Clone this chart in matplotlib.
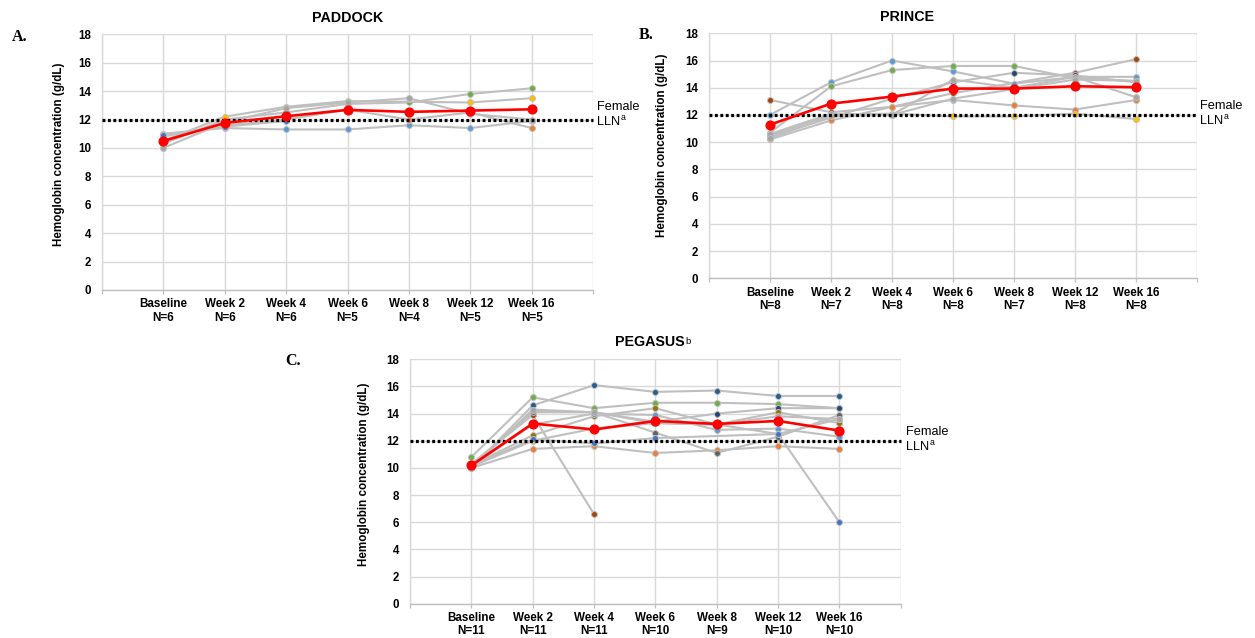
import numpy as np
import matplotlib
matplotlib.use("Agg")
import matplotlib.pyplot as plt
from matplotlib.text import Annotation

plt.rcParams['font.family'] = ['Liberation Sans', 'DejaVu Sans']

nan = np.nan
categories = ["Baseline", "Week 2", "Week 4", "Week 6", "Week 8", "Week 12", "Week 16"]

# ---------------- PADDOCK ----------------
paddock_n = ["N=6", "N=6", "N=6", "N=5", "N=4", "N=5", "N=5"]
paddock_mean = [10.49, 11.76, 12.23, 12.68, 12.54, 12.63, 12.72]
paddock_p1 = [11.0, 11.4, 11.3, 11.3, 11.6, 11.4, 11.9]
paddock_p2 = [10.3, 12.0, 12.5, 13.1, 13.2, 13.8, 14.2]
paddock_p3 = [10.5, 12.2, 12.9, 13.3, nan, 13.2, 13.5]
paddock_p4 = [10.0, 11.8, 12.8, 13.2, 13.5, 12.4, 12.0]
paddock_p5 = [10.8, 11.6, 12.0, 12.7, 12.0, 12.5, 11.4]
paddock_p6 = [10.9, 11.5, 11.9, nan, nan, nan, nan]
paddock_colors = ['#5B9BD5', '#70AD47', '#FFC000', '#A5A5A5', '#ED7D31', '#4472C4']

# ---------------- PRINCE ----------------
prince_n = ["N=8", "N=7", "N=8", "N=8", "N=7", "N=8", "N=8"]
prince_mean = [11.29, 12.83, 13.35, 13.94, 13.94, 14.11, 14.04]
prince_p1 = [13.1, 12.2, 12.6, 13.6, nan, 15.1, 16.1]
prince_p2 = [12.0, 14.4, 16.0, 15.2, 14.3, 14.8, 14.8]
prince_p3 = [10.7, 14.1, 15.3, 15.6, 15.6, 14.7, 14.5]
prince_p4 = [10.4, nan, 13.2, 14.4, 15.1, 14.9, 14.4]
prince_p5 = [10.2, 11.6, 12.6, 13.1, 12.7, 12.4, 13.1]
prince_p6 = [10.5, 12.0, 12.1, 11.9, 11.9, 12.1, 11.7]
prince_p7 = [10.6, 12.1, 12.0, 14.6, 14.0, 14.8, 13.3]
prince_p8 = [10.3, 11.9, 12.0, 13.2, 13.9, 14.6, 14.5]
prince_colors = ['#9E480E', '#5B9BD5', '#70AD47', '#264478', '#ED7D31', '#FFC000', '#A5A5A5', '#A5A5A5']

# ---------------- PEGASUS ----------------
pegasus_n = ["N=11", "N=11", "N=11", "N=10", "N=9", "N=10", "N=10"]
pegasus_mean = [10.18, 13.27, 12.83, 13.46, 13.24, 13.46, 12.75]
pegasus_p1 = [10.0, 14.6, 16.1, 15.6, 15.7, 15.3, 15.3]
pegasus_p2 = [10.8, 15.2, 14.4, 14.8, 14.8, 14.7, 14.4]
pegasus_p3 = [10.1, 14.2, 14.1, 13.4, 14.0, 14.4, 14.4]
pegasus_p4 = [10.2, 12.4, 13.8, 14.4, 13.2, 14.1, 13.3]
pegasus_p5 = [10.3, 13.9, 6.6, nan, nan, nan, nan]
pegasus_p6 = [10.0, 11.4, 11.6, 11.1, 11.3, 11.6, 11.4]
pegasus_p7 = [10.1, 12.0, 12.9, 13.3, 13.2, 12.5, 13.6]
pegasus_p8 = [10.2, 14.1, 14.1, 12.6, 11.1, 12.3, 13.9]
pegasus_p9 = [10.1, 13.2, 14.0, 13.9, 12.8, 12.9, 12.3]
pegasus_p10 = [10.2, 12.1, 11.8, 12.2, nan, 12.5, 6.0]
pegasus_p11 = [10.0, 14.3, 14.1, 13.3, 13.2, 13.8, 13.6]
pegasus_colors = ['#255E91', '#70AD47', '#264478', '#997300', '#9E480E', '#ED7D31',
                  '#FFC000', '#636363', '#5B9BD5', '#4472C4', '#A5A5A5']

female_lln = 12

W, H = 1255, 638
fig = plt.figure(figsize=(W / 100, H / 100), dpi=100)


def rect(left, right, top, bottom):
    return [left / W, 1 - bottom / H, (right - left) / W, (bottom - top) / H]


def draw_panel(ax, patients, colors, mean, nlabels, ylab_xy):
    x = np.arange(len(categories))
    for vals, c in zip(patients, colors):
        v = np.array(vals, dtype=float)
        m = ~np.isnan(v)
        ax.plot(x[m], v[m], color='#BFBFBF', lw=1.5, zorder=2,
                marker='o', ms=4.3, mfc=c, mec='#BFBFBF', mew=0.7)
    ax.plot([-1, 7], [female_lln, female_lln], color='black', lw=2.3,
            linestyle=(0, (0.9, 0.8)), zorder=3, clip_on=False)
    ax.plot(x, mean, color='#FF0000', lw=1.9, marker='o', ms=6.3,
            mfc='#FF0000', mec='#FF0000', zorder=4)
    ax.set_xlim(-1, 7)
    ax.set_ylim(0, 18)
    ax.set_yticks(np.arange(0, 19, 2))
    ax.set_xticks(np.arange(-1, 8))
    ax.set_xticklabels([""] + [f"{c}\n{n}" for c, n in zip(categories, nlabels)] + [""],
                       fontsize=8.4, fontweight='bold', linespacing=1.15)
    for lab in ax.get_yticklabels():
        lab.set_fontweight('bold')
        lab.set_fontsize(8.3)
    ax.tick_params(axis='y', length=0, pad=8)
    ax.tick_params(axis='x', length=3, width=0.9, color='#BFBFBF', pad=3, direction='out')
    ax.grid(True, color='#D9D9D9', lw=1.0, zorder=0)
    ax.set_axisbelow(True)
    for s in ['top', 'right']:
        ax.spines[s].set_visible(False)
    ax.spines['left'].set_color('#D9D9D9')
    ax.spines['left'].set_linewidth(1.0)
    ax.spines['bottom'].set_color('#BFBFBF')
    ax.spines['bottom'].set_linewidth(1.0)
    ax.set_ylabel("Hemoglobin concentration (g/dL)", fontsize=8.4, fontweight='bold')
    ax.yaxis.set_label_coords(*ylab_xy)


def female_label(xp, yp):
    fig.text(xp / W, 1 - yp / H, "Female", fontsize=9.2, ha='left', va='top')
    t = fig.text(xp / W, 1 - (yp + 15) / H, "LLN", fontsize=9.2, ha='left', va='top')
    a = Annotation("a", xy=(1, 1), xycoords=t, xytext=(0.3, 2.0),
                   textcoords='offset points', fontsize=6.3, ha='left', va='top')
    fig.add_artist(a)


axA = fig.add_axes(rect(102, 593, 34.3, 290))
draw_panel(axA, [paddock_p1, paddock_p2, paddock_p3, paddock_p4, paddock_p5, paddock_p6],
           paddock_colors, paddock_mean, paddock_n, (-0.075, 0.53))

axB = fig.add_axes(rect(709, 1197, 33.3, 278.3))
draw_panel(axB, [prince_p1, prince_p2, prince_p3, prince_p4, prince_p5, prince_p6,
                 prince_p7, prince_p8],
           prince_colors, prince_mean, prince_n, (-0.084, 0.545))

axC = fig.add_axes(rect(410, 900.7, 359.3, 603.7))
draw_panel(axC, [pegasus_p1, pegasus_p2, pegasus_p3, pegasus_p4, pegasus_p5, pegasus_p6,
                 pegasus_p7, pegasus_p8, pegasus_p9, pegasus_p10, pegasus_p11],
           pegasus_colors, pegasus_mean, pegasus_n, (-0.0815, 0.53))

# titles
fig.text(348 / W, 1 - 18 / H, "PADDOCK", fontsize=10.3, fontweight='bold', ha='center', va='center')
fig.text(907 / W, 1 - 17 / H, "PRINCE", fontsize=10.3, fontweight='bold', ha='center', va='center')
tC = fig.text(650 / W, 1 - 342 / H, "PEGASUS", fontsize=10.3, fontweight='bold', ha='center', va='center')
fig.add_artist(Annotation("b", xy=(1, 1), xycoords=tC, xytext=(0.4, -1.2),
                          textcoords='offset points', fontsize=6.8, ha='left', va='top'))

# panel letters
for lab, xp, yp in [("A.", 12, 37), ("B.", 639, 35), ("C.", 285, 361)]:
    fig.text(xp / W, 1 - yp / H, lab, fontsize=11.5, fontweight='bold', ha='left', va='center',
             family=['Liberation Serif', 'DejaVu Serif'])

female_label(597, 101)
female_label(1200, 100)
female_label(906, 426)

fig.savefig("out.png", dpi=100)
